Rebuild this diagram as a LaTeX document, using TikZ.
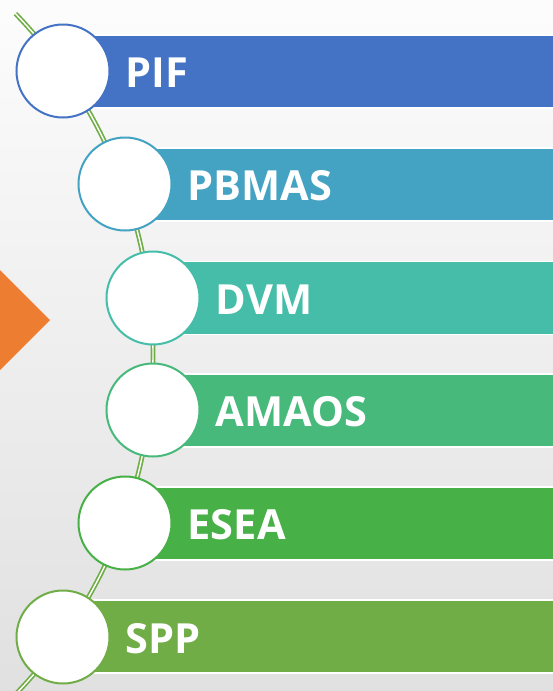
\documentclass[tikz,border=0pt]{standalone}
\usepackage{fontspec}
\setmainfont{Open Sans}
\definecolor{cPIF}{HTML}{4472C4}
\definecolor{cPBMAS}{HTML}{44A2C2}
\definecolor{cDVM}{HTML}{45BDA9}
\definecolor{cAMAOS}{HTML}{47B97B}
\definecolor{cESEA}{HTML}{47B046}
\definecolor{cSPP}{HTML}{70AD47}
\definecolor{cOrange}{HTML}{ED7D31}
\definecolor{cLine}{HTML}{70AD47}
\tikzset{
  ring/.style={circle, fill=white, line width=2pt, minimum size=93pt, inner sep=0pt},
  lbl/.style={anchor=west, text=white, font=\fontsize{41.5}{41.5}\selectfont\bfseries, inner sep=0pt},
  rail/.style={draw=cLine, double=white, line width=1.7pt, double distance=1.4pt}
}
\begin{document}
\begin{tikzpicture}[x=1pt,y=-1pt]
\useasboundingbox (0,0) rectangle (553,691);
\begin{scope}
\clip (0,0) rectangle (553,691);
\shade[top color=white!99!black, bottom color=black!12] (0,0) rectangle (553,691);
\fill[cOrange] (-5,265) -- (50,320) -- (-5,375) -- cycle;
% bars
\foreach \cx/\cy/\c in {63/71.5/cPIF,125/184.5/cPBMAS,153/298/cDVM,153/410.5/cAMAOS,125/523.5/cESEA,63/636.5/cSPP}{
  \path[fill=\c, draw=white, line width=1.2pt] (\cx,\cy-36.5) rectangle (560,\cy+36.5);
}
% rail
\draw[rail] plot[domain=-44:45, samples=90] ({-337+490*cos(\x)},{354+490*sin(\x)});
\end{scope}
% circles
\node[ring, draw=cPIF] (c1) at (63,71) {};
\node[ring, draw=cPBMAS] (c2) at (125,184) {};
\node[ring, draw=cDVM] (c3) at (153,298) {};
\node[ring, draw=cAMAOS] (c4) at (153,410) {};
\node[ring, draw=cESEA] (c5) at (125,523) {};
\node[ring, draw=cSPP] (c6) at (63,637) {};
% labels
\node[lbl] (t1) at ([xshift=15pt,yshift=-1.5pt]c1.east) {PIF};
\node[lbl] (t2) at ([xshift=15pt,yshift=-1.5pt]c2.east) {PBMAS};
\node[lbl] (t3) at ([xshift=15pt,yshift=-1.5pt]c3.east) {DVM};
\node[lbl] (t4) at ([xshift=15pt,yshift=-1.5pt]c4.east) {AMAOS};
\node[lbl] (t5) at ([xshift=15pt,yshift=-1.5pt]c5.east) {ESEA};
\node[lbl] (t6) at ([xshift=15pt,yshift=-1.5pt]c6.east) {SPP};
\end{tikzpicture}
\end{document}
